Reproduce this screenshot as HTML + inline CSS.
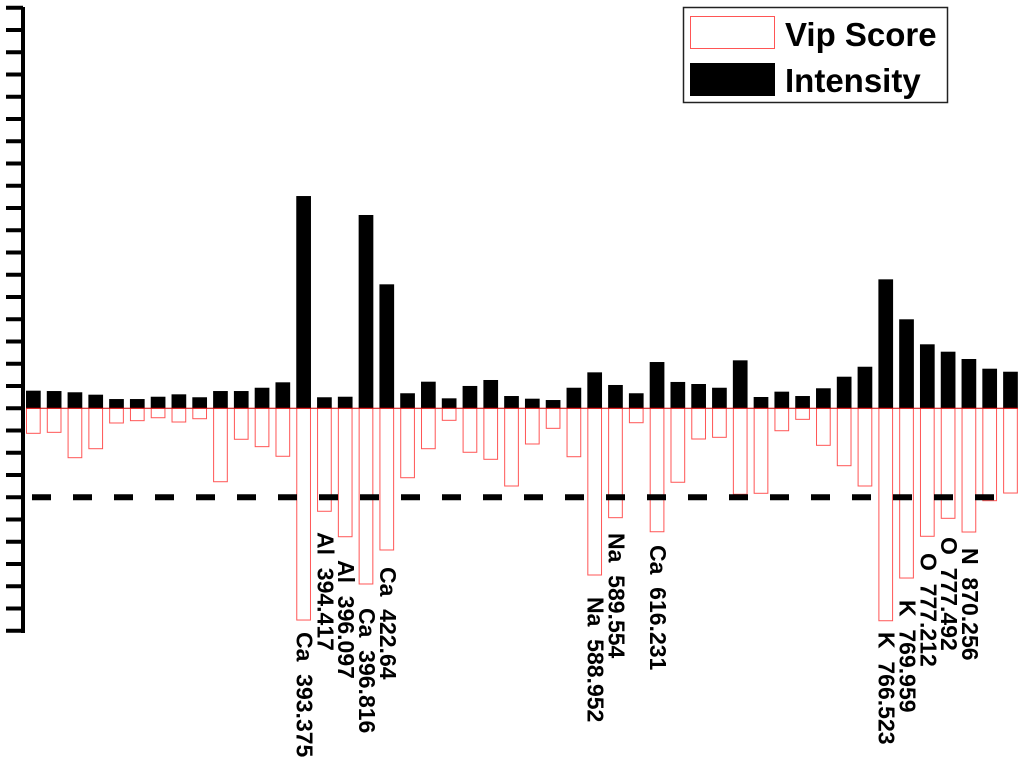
<!DOCTYPE html>
<html><head><meta charset="utf-8"><style>
html,body{margin:0;padding:0;background:#fff;}
svg{display:block;font-family:"Liberation Sans",Arial,sans-serif;font-weight:bold;}
</style></head><body>
<svg id="chart" width="1024" height="764" viewBox="0 0 1024 764" xmlns="http://www.w3.org/2000/svg">
<g id="axis"></g>
<g id="bars"></g>
<line id="thr" stroke="#000" stroke-width="6" stroke-dasharray="19,22" x1="32" x2="1010"/>
<g id="labels"></g>
<g>
<rect x="683.5" y="7.5" width="264" height="95" fill="#fff" stroke="#222" stroke-width="1.5"/>
<rect x="690.5" y="16.5" width="84" height="32" fill="#fff" stroke="#ff5555" stroke-width="1"/>
<rect x="690" y="63" width="85" height="33" fill="#000"/>
<text x="785" y="46" font-size="33">Vip Score</text>
<text x="785" y="92" font-size="33">Intensity</text>
</g>
</svg>
<script>
// intensity (px-scaled units, 1 = threshold distance)
const intensity = [0.198,0.194,0.180,0.153,0.104,0.104,0.130,0.157,0.124,0.194,0.194,0.231,0.292,2.385,0.124,0.130,2.172,1.393,0.169,0.299,0.112,0.251,0.318,0.138,0.108,0.093,0.231,0.404,0.262,0.169,0.520,0.296,0.273,0.231,0.539,0.127,0.187,0.138,0.225,0.355,0.467,1.449,1.000,0.719,0.636,0.554,0.445,0.411];
const vip = [0.281,0.270,0.555,0.454,0.165,0.139,0.106,0.154,0.117,0.825,0.348,0.431,0.539,2.379,1.157,1.443,1.974,1.592,0.780,0.454,0.135,0.494,0.573,0.873,0.401,0.225,0.544,1.873,1.229,0.162,1.387,0.831,0.345,0.326,0.966,0.955,0.252,0.124,0.416,0.645,0.873,2.387,1.907,1.438,1.236,1.390,1.038,0.952];
const labelIdx = [13,14,15,16,17,27,28,30,41,42,43,44,45];
const labelText = ["Ca  393.375","Al  394.417","Al  396.097","Ca  396.816","Ca  422.64","Na  588.952","Na  589.554","Ca  616.231","K  766.523","K  769.959","O  777.212","O  777.492","N  870.256"];
const labelStart = [632,532,560,608,567,597,533,545,632,600,553,537,548];
const threshold = 1;

const NS="http://www.w3.org/2000/svg";
const zeroY=408.3, unit=89, x0=26, pitch=20.79, bw=14.7;
const yS=v=>zeroY - v*unit;
const xS=i=>x0 + i*pitch;
function mk(tag,attrs,parent){const e=document.createElementNS(NS,tag);for(const k in attrs)e.setAttribute(k,attrs[k]);parent.appendChild(e);return e;}

const axis=document.getElementById('axis');
const al=mk('line',{x1:23,x2:23,y1:7,y2:633,stroke:'#000','stroke-width':4},axis);


for(let k=-18;k<=10;k++){
  const y=zeroY+k*unit/4;
  const t=mk('line',{x1:6,x2:23,y1:y,y2:y,stroke:'#000','stroke-width':4},axis);
  
  
}
const bars=document.getElementById('bars');
vip.forEach((v,i)=>{
  const r=mk('rect',{x:xS(i)+0.5,y:zeroY,width:bw-1,height:v*unit,fill:'#fff',stroke:'#ff5555','stroke-width':1},bars);
  
  
});
intensity.forEach((v,i)=>{
  const r=mk('rect',{x:xS(i),y:yS(v),width:bw,height:v*unit,fill:'#000'},bars);
  
  
});
mk('line',{x1:x0,x2:xS(vip.length-1)+bw,y1:zeroY,y2:zeroY,stroke:'#c00','stroke-width':1},bars);
const thr=document.getElementById('thr');
thr.setAttribute('y1',zeroY+threshold*unit);thr.setAttribute('y2',zeroY+threshold*unit);
const lg=document.getElementById('labels');
labelIdx.forEach((idx,j)=>{
  const cx=xS(idx)+bw/2+1, y=labelStart[j];
  const t=mk('text',{x:0,y:0,'font-size':23,'dominant-baseline':'central',transform:`translate(${cx},${y}) rotate(90)`},lg);
  
  
  t.setAttribute('xml:space','preserve');
  t.style.whiteSpace='pre';
  t.textContent=labelText[j];
});
</script>
</body></html>
